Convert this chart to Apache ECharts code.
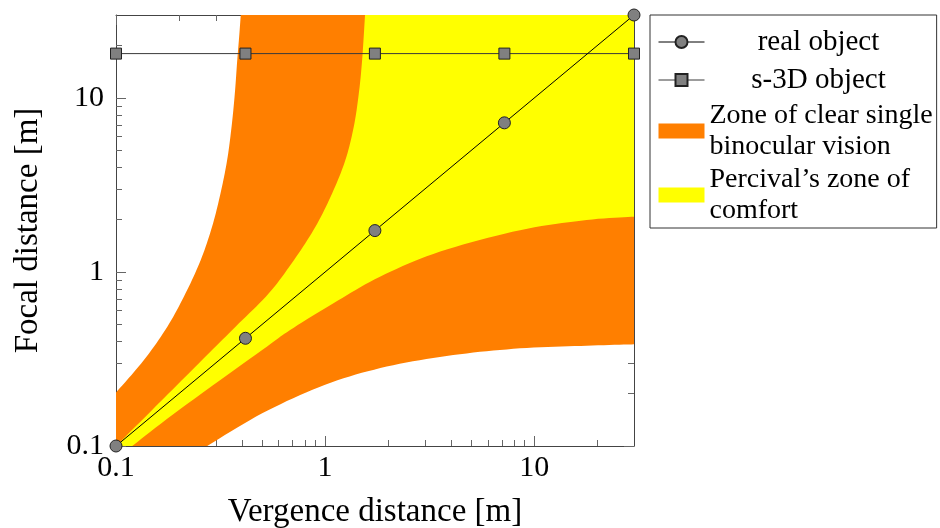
<!DOCTYPE html>
<html>
<head>
<meta charset="utf-8">
<script src="https://cdn.jsdelivr.net/npm/echarts@6/dist/echarts.min.js"></script>
<style>
    html, body { margin: 0; padding: 0; background: #fff; }
    #chart { width: 940px; height: 528px; }
</style>
</head>
<body>
<div id="chart"></div>
<script>
const axisMin = 0.1
const axisMax = 30

const majorTicks = [0.1, 1, 10]
const tickLabels = ['0.1', '1', '10']
const minorTicks = [0.2, 0.3, 0.4, 0.5, 0.6, 0.7, 0.8, 0.9, 2, 3, 4, 5, 6, 7, 8, 9, 20]

// objects
const realX = [0.1, 0.416, 1.73, 7.2, 30]
const realY = [0.1, 0.416, 1.73, 7.2, 30]
const s3dX = [0.1, 0.416, 1.73, 7.2, 30]
const s3dY = [18, 18, 18, 18, 18]

// zone of clear single binocular vision, far edge (upper left) and near edge (lower right)
const zoneFarX = [0.1, 0.136, 0.176, 0.215, 0.254, 0.288, 0.316, 0.34, 0.357, 0.37, 0.38, 0.388, 0.395]
const zoneFarY = [0.203, 0.312, 0.485, 0.754, 1.17, 1.82, 2.83, 4.4, 6.84, 10.6, 16.5, 22.4, 30]
const zoneNearX = [0.273, 0.5, 1.0, 1.97, 4.1, 8.55, 17.8, 30]
const zoneNearY = [0.1, 0.154, 0.225, 0.286, 0.333, 0.364, 0.377, 0.384]

// Percival's zone of comfort
const percFarX = [0.1, 0.161, 0.258, 0.373, 0.538, 0.709, 0.899, 1.08, 1.25, 1.371, 1.449, 1.503, 1.552]
const percFarY = [0.1, 0.177, 0.312, 0.485, 0.754, 1.17, 1.82, 2.83, 4.4, 6.84, 10.6, 16.5, 30]
const percNearX = [0.1196, 0.2, 0.5, 0.68, 1.096, 1.83, 3.55, 8.55, 17.8, 30]
const percNearY = [0.1, 0.161, 0.356, 0.464, 0.661, 0.94, 1.31, 1.74, 1.99, 2.08]

const font = 'Liberation Serif'
const orange = '#FF7F00'
const yellow = '#FFFF00'

function zip(xs, ys) {
    return xs.map((x, i) => [x, ys[i]])
}

// catmull-rom through screen points, only to draw the edge as a curve
function smoothEdge(pts, steps) {
    if (pts.length < 3) return pts
    let out = []
    for (let i = 0; i < pts.length - 1; i++) {
        const p0 = pts[Math.max(i - 1, 0)]
        const p1 = pts[i]
        const p2 = pts[i + 1]
        const p3 = pts[Math.min(i + 2, pts.length - 1)]
        for (let s = 0; s < steps; s++) {
            const t = s / steps, t2 = t * t, t3 = t2 * t
            out.push([0, 1].map(k => 0.5 * (2 * p1[k] + (-p0[k] + p2[k]) * t +
                (2 * p0[k] - 5 * p1[k] + 4 * p2[k] - p3[k]) * t2 +
                (-p0[k] + 3 * p1[k] - 3 * p2[k] + p3[k]) * t3)))
        }
    }
    out.push(pts[pts.length - 1])
    return out
}

function zoneSeries(name, color, farX, farY, nearX, nearY) {
    return {
        name: name,
        type: 'custom',
        coordinateSystem: 'cartesian2d',
        silent: true,
        clip: true,
        z: 1,
        itemStyle: { color: color },
        data: [[axisMin, axisMin]],
        renderItem: function (params, api) {
            const far = smoothEdge(zip(farX, farY).map(p => api.coord(p)), 10)
            const near = smoothEdge(zip(nearX, nearY).map(p => api.coord(p)), 10).reverse()
            let pts = []
            if (farY[0] > axisMin) pts.push(api.coord([axisMin, axisMin]))
            pts = pts.concat(far, [api.coord([axisMax, axisMax])], near)
            return {
                type: 'polygon',
                shape: { points: pts },
                style: { fill: color }
            }
        }
    }
}

function labelOf(v) {
    let idx = majorTicks.findIndex(t => Math.abs(Math.log10(t) - Math.log10(v)) < 1e-6)
    return idx >= 0 ? tickLabels[idx] : ''
}

/**
 * one side of the frame; major and minor ticks need their own axis each
 */
function makeAxis(dim, position, ticks, tickLen, withLabel, withLine, name) {
    let axis = {
        type: 'log',
        logBase: 10,
        min: axisMin,
        max: axisMax,
        position: position,
        splitLine: { show: false },
        axisLine: { show: withLine, onZero: false, lineStyle: { color: '#444', width: 1 } },
        axisTick: {
            show: true,
            inside: true,
            length: tickLen,
            customValues: ticks,
            lineStyle: { color: '#666', width: 1 }
        },
        axisLabel: {
            show: withLabel,
            customValues: majorTicks,
            formatter: labelOf,
            fontFamily: font,
            fontSize: 30,
            color: '#000',
            margin: dim === 'x' ? 7 : 12
        }
    }
    if (name) {
        axis.name = name
        axis.nameLocation = 'middle'
        axis.nameGap = dim === 'x' ? 50 : 71
        axis.nameTextStyle = { fontFamily: font, fontSize: 33, color: '#000' }
    }
    return axis
}

const chart = echarts.init(document.getElementById('chart'))
chart.setOption({
    animation: false,
    grid: { left: 116, right: 306, top: 15, bottom: 82, containLabel: false, outerBoundsMode: 'none' },
    xAxis: [
        makeAxis('x', 'bottom', majorTicks, 10, true, true, 'Vergence distance [m]'),
        makeAxis('x', 'bottom', minorTicks, 6, false, false),
        makeAxis('x', 'top', majorTicks, 10, false, true),
        makeAxis('x', 'top', minorTicks, 6, false, false)
    ],
    yAxis: [
        makeAxis('y', 'left', majorTicks, 10, true, true, 'Focal distance [m]'),
        makeAxis('y', 'left', minorTicks, 6, false, false),
        makeAxis('y', 'right', majorTicks, 10, false, true),
        makeAxis('y', 'right', minorTicks, 6, false, false)
    ],
    legend: {
        orient: 'vertical',
        left: 650,
        top: 15,
        padding: [9, 4, 2, 8],
        itemGap: 2,
        itemWidth: 46,
        itemHeight: 15,
        backgroundColor: '#fff',
        borderColor: '#333',
        borderWidth: 1,
        borderRadius: 0,
        selectedMode: false,
        data: [
            { name: 'real object', lineStyle: { width: 1 } },
            { name: 's-3D object', lineStyle: { width: 1 } },
            { name: 'Zone of clear single\nbinocular vision', icon: 'rect' },
            { name: 'Percival\u2019s zone of\ncomfort', icon: 'rect' }
        ],
        formatter: function (name) {
            if (name === 'real object' || name === 's-3D object') return '{c|' + name + '}'
            return name
        },
        textStyle: {
            fontFamily: font,
            fontSize: 28,
            lineHeight: 31,
            color: '#000',
            rich: {
                c: { width: 218, align: 'center', fontFamily: font, fontSize: 29, lineHeight: 36, color: '#000' }
            }
        }
    },
    series: [
        zoneSeries('Zone of clear single\nbinocular vision', orange, zoneFarX, zoneFarY, zoneNearX, zoneNearY),
        zoneSeries('Percival\u2019s zone of\ncomfort', yellow, percFarX, percFarY, percNearX, percNearY),
        {
            name: 'real object',
            type: 'line',
            z: 5,
            data: zip(realX, realY),
            symbol: 'circle',
            symbolSize: 12,
            clip: false,
            lineStyle: { color: '#000', width: 1 },
            itemStyle: { color: '#808080', borderColor: '#222', borderWidth: 1 }
        },
        {
            name: 's-3D object',
            type: 'line',
            z: 4,
            data: zip(s3dX, s3dY),
            symbol: 'rect',
            symbolSize: 11,
            clip: false,
            lineStyle: { color: '#3a3a3a', width: 1 },
            itemStyle: { color: '#808080', borderColor: '#222', borderWidth: 1 }
        }
    ]
})
</script>
</body>
</html>
